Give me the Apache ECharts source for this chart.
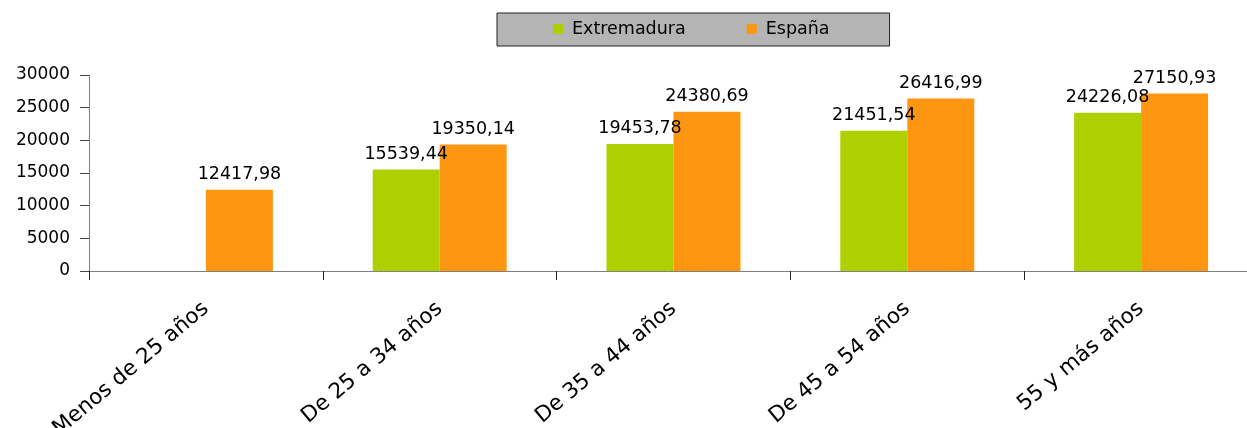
<!DOCTYPE html>
<html>
<head>
<meta charset="utf-8">
<script src="https://cdn.jsdelivr.net/npm/echarts@6/dist/echarts.min.js"></script>
<style>
  html, body { margin: 0; padding: 0; background: #fff; }
  #chart { width: 1247px; height: 428px; }
</style>
</head>
<body>
<div id="chart"></div>
<script>
const CATEGORIES = ["Menos de 25 años", "De 25 a 34 años", "De 35 a 44 años", "De 45 a 54 años", "55 y más años"];
const EXTREMADURA = [null, 15539.44, 19453.78, 21451.54, 24226.08];
const ESPANA = [12417.98, 19350.14, 24380.69, 26416.99, 27150.93];
const Y_TICKS = [0, 5000, 10000, 15000, 20000, 25000, 30000];

const FONT = "DejaVu Sans";
const chart = echarts.init(document.getElementById("chart"));

// etiqueta con coma decimal
const fmt = (p) => p.value == null ? "" : p.value.toFixed(2).replace(".", ",");

const labelStyle = {
  show: true,
  position: "top",
  distance: 6,
  formatter: fmt,
  fontFamily: FONT,
  fontSize: 17.5,
  color: "#000",
};

const option = {
  animation: false,
  textStyle: { fontFamily: FONT },
  legend: {
    left: 497,
    top: 13,
    data: ["Extremadura", "España"],
    icon: "rect",
    itemWidth: 10,
    itemHeight: 10,
    itemGap: 61,
    padding: [7, 60, 8, 56],
    backgroundColor: "#b4b4b4",
    borderColor: "#222",
    borderWidth: 1,
    borderRadius: 0,
    textStyle: { fontFamily: FONT, fontSize: 17.5, color: "#000", padding: [0, 0, 0, 4] },
  },
  grid: {
    left: 89,
    width: 1169,
    top: 75,
    height: 196,
    containLabel: false,
    outerBoundsMode: "none",
  },
  xAxis: {
    type: "category",
    data: CATEGORIES,
    axisLine: { lineStyle: { color: "#808080", width: 1 } },
    axisTick: { show: true, length: 9, lineStyle: { color: "#222" } },
    axisLabel: {
      interval: 0,
      rotate: 40,
      margin: 35,
      fontFamily: FONT,
      fontSize: 21.5,
      color: "#000",
    },
  },
  yAxis: {
    type: "value",
    min: Y_TICKS[0],
    max: Y_TICKS[Y_TICKS.length - 1],
    interval: Y_TICKS[1] - Y_TICKS[0],
    splitLine: { show: false },
    axisLine: { show: true, lineStyle: { color: "#808080" } },
    axisTick: { show: true, length: 9, lineStyle: { color: "#444" } },
    axisLabel: {
      margin: 19,
      formatter: (v) => String(v),
      fontFamily: FONT,
      fontSize: 17,
      color: "#000",
    },
  },
  series: [
    {
      name: "Extremadura",
      type: "bar",
      data: EXTREMADURA,
      barWidth: 67,
      barGap: "0%",
      itemStyle: { color: "#afd000" },
      label: labelStyle,
    },
    {
      name: "España",
      type: "bar",
      data: ESPANA,
      barWidth: 67,
      barGap: "0%",
      itemStyle: { color: "#ff9612" },
      label: labelStyle,
    },
  ],
};

chart.setOption(option);
</script>
</body>
</html>
